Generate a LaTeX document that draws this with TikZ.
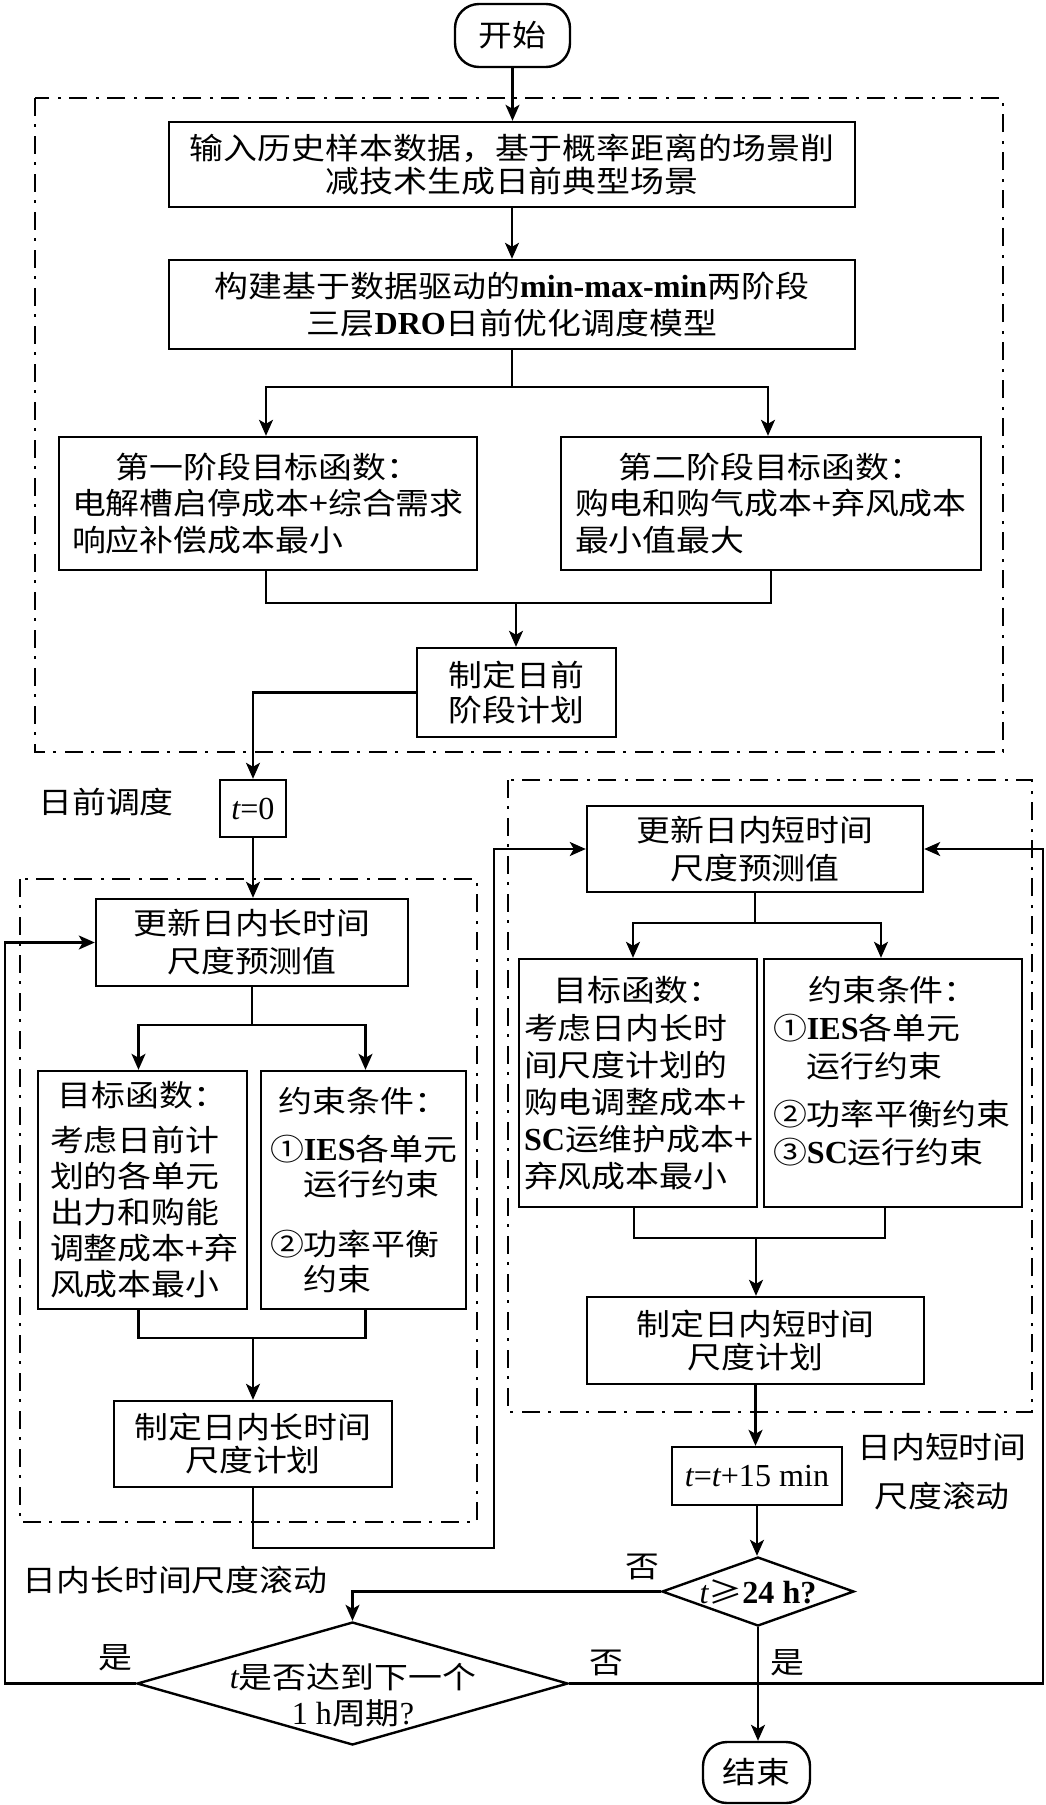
\documentclass[tikz,border=0pt]{standalone}
\usepackage{fontspec}
\setmainfont{Noto Sans CJK SC}[FakeStretch=1.13]
\newfontfamily\tnr{Liberation Serif}[Scale=1.07]
\usetikzlibrary{arrows.meta,shapes.geometric,calc}
\newcommand{\latr}[1]{{\tnr #1}}
\newcommand{\latb}[1]{{\tnr\bfseries #1}}
\newcommand{\lati}[1]{{\tnr\itshape #1}}
\newcommand{\ctitle}[1]{\hspace*{\fill}#1\hspace*{\fill}\mbox{}}
\begin{document}
\begin{tikzpicture}[x=1pt,y=-1pt,
  box/.style={draw,line width=2.4pt,inner sep=0pt,align=center,font=\fontsize{30}{36}\selectfont},
  term/.style={draw,line width=2.4pt,inner sep=0pt,rounded corners=24pt,font=\fontsize{30}{36}\selectfont},
  dia/.style={draw,line width=2.4pt,diamond,inner sep=0pt,font=\fontsize{30}{36}\selectfont},
  grp/.style={draw,line width=2pt,dash pattern=on 18pt off 8pt on 3pt off 9pt},
  arr/.style={-{Stealth[length=16pt,width=14pt,inset=4pt]},line width=2.1pt},
  ln/.style={line width=2.1pt},
  lbl/.style={inner sep=0pt,font=\fontsize{30}{36}\selectfont}]
\useasboundingbox[fill=white] (0,0) rectangle (1045,1805);

% group frames
\draw[grp] (35,98) rectangle (1003,752);
\draw[grp] (20,879) rectangle (477,1522);
\draw[grp] (508,780) rectangle (1032,1412);

% nodes
\node[term,minimum width=115pt,minimum height=63pt] (start) at (512.5,35.5) {开始};
\node[box,minimum width=686pt,minimum height=85pt,font=\fontsize{30}{33}\selectfont] (b1) at (512,164.5)
  {输入历史样本数据，基于概率距离的场景削\\减技术生成日前典型场景};
\node[box,minimum width=686pt,minimum height=89pt,font=\fontsize{30}{37}\selectfont] (b2) at (512,304.5)
  {构建基于数据驱动的\latb{min-max-min}两阶段\\三层\latb{DRO}日前优化调度模型};
\node[box,align=left,text width=392pt,inner xsep=13pt,minimum height=133pt,font=\fontsize{30}{36.5}\selectfont] (bL1) at (268,503.5)
  {\ctitle{第一阶段目标函数：}\\电解槽启停成本+综合需求\\响应补偿成本最小};
\node[box,align=left,text width=392pt,inner xsep=14pt,minimum height=133pt,font=\fontsize{30}{36.5}\selectfont] (bR1) at (771,503.5)
  {\ctitle{第二阶段目标函数：}\\购电和购气成本+弃风成本\\最小值最大};
\node[box,minimum width=199pt,minimum height=89pt,font=\fontsize{30}{35}\selectfont] (p1) at (516.5,692.5)
  {制定日前\\阶段计划};
\node[box,minimum width=66pt,minimum height=57pt] (t0) at (253,808.5) {\lati{t}\latr{=0}};
\node[lbl] (l1) at (106,802) {日前调度};

\node[box,minimum width=312pt,minimum height=87pt,font=\fontsize{30}{38}\selectfont] (uL) at (252,942.5)
  {更新日内长时间\\尺度预测值};
\node[box,align=left,text width=185pt,inner xsep=12pt,minimum height=238pt,font=\fontsize{30}{36}\selectfont] (oL) at (142.5,1190)
  {\ctitle{目标函数：}\\[9pt]考虑日前计\\划的各单元\\出力和购能\\调整成本+弃\\风成本最小};
\node[box,align=left,text width=187pt,inner xsep=9pt,minimum height=238pt,font=\fontsize{30}{35}\selectfont] (cL) at (363.5,1190)
  {\ctitle{约束条件：}\\[13pt]①\latb{IES}各单元\\\phantom{①}运行约束\\[25pt]②功率平衡\\\phantom{①}约束};
\node[box,minimum width=278pt,minimum height=86pt,font=\fontsize{30}{33}\selectfont] (pL) at (253,1444)
  {制定日内长时间\\尺度计划};

\node[box,minimum width=336pt,minimum height=86pt,font=\fontsize{30}{38}\selectfont] (uS) at (755,849)
  {更新日内短时间\\尺度预测值};
\node[box,align=left,text width=228pt,inner xsep=5pt,minimum height=248pt,font=\fontsize{30}{37}\selectfont] (oS) at (638,1083)
  {\ctitle{目标函数：}\\[1pt]考虑日内长时\\间尺度计划的\\购电调整成本+\\\latb{SC}运维护成本+\\弃风成本最小};
\node[box,align=left,text width=240pt,inner xsep=9pt,minimum height=248pt,font=\fontsize{30}{38}\selectfont] (cS) at (893,1083)
  {\ctitle{约束条件：}\\①\latb{IES}各单元\\\phantom{①}运行约束\\[10pt]②功率平衡约束\\③\latb{SC}运行约束\\[-12pt]\mbox{}};
\node[box,minimum width=337pt,minimum height=87pt,font=\fontsize{30}{33}\selectfont] (pS) at (755.5,1340.5)
  {制定日内短时间\\尺度计划};
\node[box,minimum width=170pt,minimum height=58pt] (tI) at (757,1476)
  {\lati{t}\latr{=}\lati{t}\latr{+15 min}};
\node[lbl,align=center,font=\fontsize{30}{49}\selectfont] (l3) at (942,1472) {日内短时间\\尺度滚动};

\node[dia,aspect=2.78,minimum width=192pt,minimum height=69pt] (d1) at (758,1591.5)
  {\lati{t}≥\latb{24 h?}};
\node[dia,minimum width=431pt,minimum height=123pt] (d2) at (352.5,1683.5) {};
\node[lbl,align=center,font=\fontsize{30}{36}\selectfont] (d2t) at (353,1695)
  {\lati{t}是否达到下一个\\\latr{1 h}周期\latr{?}};
\node[term,minimum width=107pt,minimum height=61pt] (end) at (756.5,1772.5) {结束};

\node[lbl] (l2) at (175,1580) {日内长时间尺度滚动};
\node[lbl] (n1) at (642,1567) {否};
\node[lbl] (y1) at (115,1658) {是};
\node[lbl] (n2) at (606,1663) {否};
\node[lbl] (y2) at (787,1663) {是};

% connectors
\draw[arr] (start.south) -- (start.south |- b1.north);
\draw[arr] (b1) -- (b2);
\draw[ln] (b2.south) -- ++(0,37) coordinate (s1);
\draw[arr] (s1) -| ([xshift=-2pt]bL1.north);
\draw[arr] (s1) -| ([xshift=-3pt]bR1.north);
\coordinate (m1) at (516,603);
\draw[ln] ([xshift=-2pt]bL1.south) |- (m1);
\draw[ln] (bR1.south) |- (m1);
\draw[arr] (m1) -- (m1 |- p1.north);
\draw[arr] (p1.west) -| (t0.north);
\draw[arr] (t0.south) -- (t0.south |- uL.north);

\draw[ln] (uL.south) -- ++(0,38) coordinate (s2);
\draw[arr] (s2) -| ([xshift=-4pt]oL.north);
\draw[arr] (s2) -| ([xshift=2pt]cL.north);
\coordinate (m2) at (253,1338);
\draw[ln] ([xshift=-4pt]oL.south) |- (m2);
\draw[ln] ([xshift=2pt]cL.south) |- (m2);
\draw[arr] (m2) -- (m2 |- pL.north);
\coordinate (c1) at (494,1548);
\draw[arr] (pL.south) |- (c1) |- (uS.west);

\draw[ln] (uS.south) -- ++(0,30) coordinate (s3);
\draw[arr] (s3) -| ([xshift=-5pt]oS.north);
\draw[arr] (s3) -| ([xshift=-12pt]cS.north);
\coordinate (m3) at (756,1238);
\draw[ln] ([xshift=-4pt]oS.south) |- (m3);
\draw[ln] ([xshift=-8pt]cS.south) |- (m3);
\draw[arr] (m3) -- (m3 |- pS.north);
\draw[arr] (pS.south) -- (pS.south |- tI.north);
\draw[arr] (tI.south) -- (tI.south |- d1.north);
\draw[arr] (d1.west) -| (d2.north);
\draw[arr] (d1.south) -- (d1.south |- end.north);
\coordinate (c2) at (5,1683.5);
\draw[arr] (d2.west) -- (c2) |- (uL.west);
\coordinate (c3) at (1043,1683.5);
\draw[arr] (d2.east) -- (c3) |- (uS.east);
\end{tikzpicture}
\end{document}
